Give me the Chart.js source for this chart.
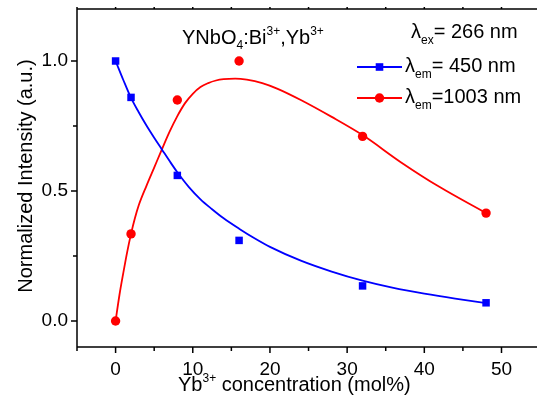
<!DOCTYPE html>
<html>
<head>
<meta charset="utf-8">
<script src="https://cdn.jsdelivr.net/npm/chart.js@4.4.1/dist/chart.umd.min.js"></script>
<style>
  html, body { margin: 0; padding: 0; background: #fff; }
  #wrap { width: 537px; height: 402px; }
</style>
</head>
<body>
<div id="wrap"><canvas id="lumChart" width="537" height="402"></canvas></div>
<script>
// measured points
const concentration = [0, 2, 8, 16, 32, 48];
const em450 = [1.0, 0.86, 0.56, 0.31, 0.135, 0.07];
const em1003 = [0.0, 0.335, 0.85, 1.0, 0.71, 0.415];

// fitted curves
const fit450X = [0, 1, 2, 3, 4, 5, 6, 7, 8, 9.5, 11, 12.5, 14, 16, 18, 20, 24, 28, 32, 36, 40, 44, 48];
const fit450Y = [1.0, 0.927, 0.858, 0.803, 0.752, 0.705, 0.66, 0.615, 0.572, 0.515, 0.468, 0.43, 0.395, 0.355, 0.318, 0.285, 0.232, 0.19, 0.155, 0.127, 0.105, 0.086, 0.069];
const fit1003X = [0, 0.5, 1, 1.5, 2, 2.5, 3, 4, 5, 6, 7, 8, 9, 10, 11, 12, 13, 14, 15.5, 17, 19, 21, 24, 28, 32, 37, 42, 48];
const fit1003Y = [0.0, 0.1, 0.185, 0.265, 0.335, 0.395, 0.445, 0.52, 0.59, 0.66, 0.728, 0.788, 0.838, 0.874, 0.9, 0.915, 0.925, 0.93, 0.932, 0.928, 0.915, 0.893, 0.85, 0.785, 0.715, 0.61, 0.515, 0.415];

// axis ticks
const xTicks = [0, 10, 20, 30, 40, 50];
const xMinor = [-5, 5, 15, 25, 35, 45];
const yTicks = [0.0, 0.5, 1.0];
const yMinor = [0.25, 0.75];

const BLUE = '#0000ff';
const RED = '#ff0000';
const FONT = '"Liberation Sans", Arial, sans-serif';

const toXY = (xs, ys) => xs.map((x, i) => ({ x: x, y: ys[i] }));

// draws text pieces with sub/superscripts
function richText(ctx, x, y, parts) {
  parts.forEach(p => {
    ctx.font = (p.size || 20) + 'px ' + FONT;
    ctx.fillText(p.t, x, y + (p.dy || 0));
    x += ctx.measureText(p.t).width;
  });
  return x;
}

const framePlugin = {
  id: 'frame',
  afterDraw(chart) {
    const ctx = chart.ctx;
    const xs = chart.scales.x, ys = chart.scales.y;
    const a = chart.chartArea;
    ctx.save();
    ctx.strokeStyle = '#000';
    ctx.lineWidth = 1.5;
    ctx.beginPath();
    ctx.moveTo(a.left, a.top); ctx.lineTo(a.left, a.bottom);
    ctx.moveTo(a.left, a.bottom); ctx.lineTo(a.right + 5, a.bottom);
    ctx.moveTo(a.left, a.top); ctx.lineTo(a.right + 5, a.top);
    // ticks, outward
    xTicks.forEach(v => { const p = xs.getPixelForValue(v); ctx.moveTo(p, a.bottom); ctx.lineTo(p, a.bottom + 6); ctx.moveTo(p, a.top); ctx.lineTo(p, a.top - 2); });
    xMinor.forEach(v => { const p = xs.getPixelForValue(v); ctx.moveTo(p, a.bottom); ctx.lineTo(p, a.bottom + 4); ctx.moveTo(p, a.top); ctx.lineTo(p, a.top - 2); });
    yTicks.forEach(v => { const p = ys.getPixelForValue(v); ctx.moveTo(a.left, p); ctx.lineTo(a.left - 6, p); });
    yMinor.forEach(v => { const p = ys.getPixelForValue(v); ctx.moveTo(a.left, p); ctx.lineTo(a.left - 4, p); });
    ctx.stroke();

    ctx.fillStyle = '#000';
    ctx.textBaseline = 'alphabetic';
    ctx.textAlign = 'left';

    // x title
    richText(ctx, 178, 391, [
      { t: 'Yb' }, { t: '3+', size: 12, dy: -9 }, { t: ' concentration (mol%)' }
    ]);

    // y title
    ctx.save();
    ctx.translate(32, 176);
    ctx.rotate(-Math.PI / 2);
    ctx.font = '20px ' + FONT;
    ctx.textAlign = 'center';
    ctx.fillText('Normalized Intensity (a.u.)', 0, 0);
    ctx.restore();

    // sample label
    richText(ctx, 182, 44, [
      { t: 'YNbO' }, { t: '4', size: 12, dy: 5 }, { t: ':Bi' }, { t: '3+', size: 12, dy: -9 },
      { t: ',Yb' }, { t: '3+', size: 12, dy: -9 }
    ]);
    richText(ctx, 411, 38, [
      { t: 'λ' }, { t: 'ex', size: 12, dy: 6 }, { t: '= 266 nm' }
    ]);

    // legend
    const rows = [
      { color: BLUE, style: 'rect', y: 67, parts: [{ t: 'λ' }, { t: 'em', size: 12, dy: 6 }, { t: '= 450 nm' }] },
      { color: RED, style: 'circle', y: 98, parts: [{ t: 'λ' }, { t: 'em', size: 12, dy: 6 }, { t: '=1003 nm' }] }
    ];
    rows.forEach(r => {
      ctx.strokeStyle = r.color;
      ctx.lineWidth = 1.8;
      ctx.beginPath();
      ctx.moveTo(357, r.y); ctx.lineTo(402, r.y);
      ctx.stroke();
      ctx.fillStyle = r.color;
      if (r.style === 'rect') {
        ctx.fillRect(379.5 - 3.8, r.y - 3.8, 7.6, 7.6);
      } else {
        ctx.beginPath(); ctx.arc(379.5, r.y, 4.7, 0, Math.PI * 2); ctx.fill();
      }
      ctx.fillStyle = '#000';
      richText(ctx, 405, r.y + 5, r.parts);
    });
    ctx.restore();
  }
};

const ctx = document.getElementById('lumChart').getContext('2d');

new Chart(ctx, {
  type: 'scatter',
  data: {
    datasets: [
      {
        label: 'em450 points',
        data: toXY(concentration, em450),
        backgroundColor: BLUE,
        borderColor: BLUE,
        pointStyle: 'rect',
        pointRadius: 5.3,
        borderWidth: 0,
        showLine: false,
        clip: false
      },
      {
        label: 'em1003 points',
        data: toXY(concentration, em1003),
        backgroundColor: RED,
        borderColor: RED,
        pointStyle: 'circle',
        pointRadius: 4.7,
        borderWidth: 0,
        showLine: false,
        clip: false
      },
      {
        label: 'em450 fit',
        data: toXY(fit450X, fit450Y),
        borderColor: BLUE,
        borderWidth: 1.8,
        pointRadius: 0,
        showLine: true,
        cubicInterpolationMode: 'monotone'
      },
      {
        label: 'em1003 fit',
        data: toXY(fit1003X, fit1003Y),
        borderColor: RED,
        borderWidth: 1.8,
        pointRadius: 0,
        showLine: true,
        cubicInterpolationMode: 'monotone'
      }
    ]
  },
  options: {
    responsive: false,
    animation: false,
    devicePixelRatio: 1,
    layout: { autoPadding: false, padding: { top: 9, right: 0, bottom: 0, left: 0 } },
    plugins: {
      legend: { display: false },
      tooltip: { enabled: false }
    },
    scales: {
      x: {
        type: 'linear',
        min: -5,
        max: 54.6,
        afterBuildTicks: (s) => { s.ticks = xTicks.map(v => ({ value: v })); },
        afterFit: (s) => { s.height = 55; s.paddingLeft = 0; s.paddingRight = 0; },
        ticks: {
          color: '#000',
          font: { family: FONT, size: 19 },
          padding: 11,
          maxRotation: 0,
          callback: (v) => String(v)
        },
        grid: { display: false, drawTicks: false },
        border: { display: false }
      },
      y: {
        min: -0.1,
        max: 1.2,
        afterBuildTicks: (s) => { s.ticks = yTicks.map(v => ({ value: v })); },
        afterFit: (s) => { s.width = 77; s.paddingTop = 0; s.paddingBottom = 0; },
        ticks: {
          color: '#000',
          font: { family: FONT, size: 19 },
          padding: 9,
          callback: (v) => Number(v).toFixed(1)
        },
        grid: { display: false, drawTicks: false },
        border: { display: false }
      }
    }
  },
  plugins: [framePlugin]
});
</script>
</body>
</html>
